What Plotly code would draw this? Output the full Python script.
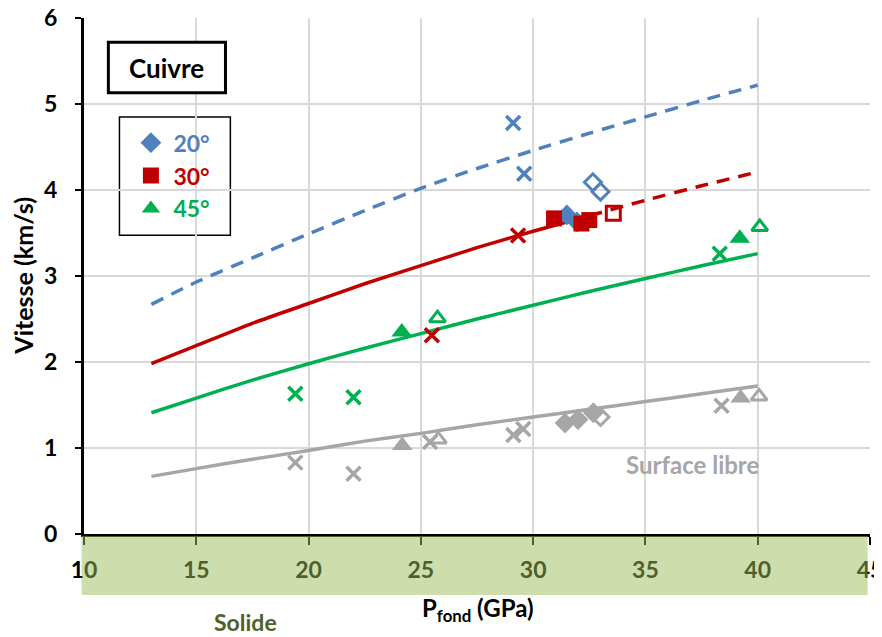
import plotly.graph_objects as go

BLUE = "#4F81BD"
RED = "#C00000"
GREEN = "#00B050"
GRAY = "#A6A6A6"

# model curves
p_model = [13, 15, 17.5, 20, 22.5, 25, 27.5, 30, 32.5, 35, 37.5, 40]
v20_model = [2.67, 2.93, 3.21, 3.49, 3.76, 4.02, 4.25, 4.46, 4.66, 4.85, 5.04, 5.22]
v45_model = [1.41, 1.58, 1.79, 1.98, 2.16, 2.33, 2.50, 2.66, 2.82, 2.97, 3.12, 3.26]
vfs_model = [0.67, 0.76, 0.87, 0.97, 1.08, 1.17, 1.27, 1.36, 1.45, 1.54, 1.63, 1.72]
p30_solid = [13, 15, 17.5, 20, 22.5, 25, 27.5, 30, 32.5]
v30_solid = [1.98, 2.19, 2.45, 2.68, 2.91, 3.12, 3.33, 3.52, 3.70]
p30_dash = [32.5, 35, 37.5, 40]
v30_dash = [3.70, 3.88, 4.05, 4.21]

# 20 deg measurements
p20_x = [29.11, 29.6]
v20_x = [4.78, 4.19]
p20_full = [31.5, 31.95]
v20_full = [3.71, 3.63]
p20_open = [32.66, 33.0]
v20_open = [4.09, 3.98]

# 30 deg measurements
p30_x = [29.33, 25.49]
v30_x = [3.47, 2.31]
p30_full = [30.93, 32.15, 32.5]
v30_full = [3.67, 3.61, 3.65]
p30_open = [33.57]
v30_open = [3.73]

# 45 deg measurements
p45_x = [19.41, 22.0, 38.31]
v45_x = [1.63, 1.59, 3.26]
p45_full = [24.15, 39.2]
v45_full = [2.35, 3.44]
p45_open = [25.74, 40.09]
v45_open = [2.51, 3.57]

# free surface measurements
pfs_x = [19.41, 22.0, 25.41, 29.12, 29.56, 38.39]
vfs_x = [0.83, 0.70, 1.07, 1.15, 1.22, 1.49]
pfs_diam = [31.42, 32.0, 32.68]
vfs_diam = [1.29, 1.33, 1.41]
pfs_diam_open = [33.0]
vfs_diam_open = [1.36]
pfs_tri = [24.17, 39.24]
vfs_tri = [1.03, 1.58]
pfs_tri_open = [25.78, 40.06]
vfs_tri_open = [1.10, 1.60]

x_ticks = [10, 15, 20, 25, 30, 35, 40, 45]
y_ticks = [0, 1, 2, 3, 4, 5, 6]

FONT = "Lato"

fig = go.Figure()


def line(x, y, color, dash="solid"):
    fig.add_trace(go.Scatter(x=x, y=y, mode="lines", showlegend=False,
                             line=dict(color=color, width=3.5, dash=dash,
                                       shape="spline", smoothing=0.6)))


def pts(x, y, color, symbol, size, lw=3):
    fig.add_trace(go.Scatter(
        x=x, y=y, mode="markers", showlegend=False,
        marker=dict(symbol=symbol, size=size, color=color,
                    line=dict(color=color, width=lw))))


line(p_model, vfs_model, GRAY)
line(p_model, v45_model, GREEN)
line(p30_solid, v30_solid, RED)
line(p30_dash, v30_dash, RED, "13px,9px")
line(p_model, v20_model, BLUE, "13px,9px")

# free surface
pts(pfs_x, vfs_x, GRAY, "x-thin", 14, 3.5)
pts(pfs_diam, vfs_diam, GRAY, "diamond", 16, 0)
pts(pfs_diam_open, vfs_diam_open, GRAY, "diamond-open", 13)
pts(pfs_tri, vfs_tri, GRAY, "triangle-up", 18, 0)
pts(pfs_tri_open, vfs_tri_open, GRAY, "triangle-up-open", 14)

# 45
pts(p45_x, v45_x, GREEN, "x-thin", 14, 3.5)
pts(p45_full, v45_full, GREEN, "triangle-up", 18, 0)
pts(p45_open, v45_open, GREEN, "triangle-up-open", 14)

# 20
pts(p20_x, v20_x, BLUE, "x-thin", 14, 3.5)
pts(p20_full, v20_full, BLUE, "diamond", 16, 0)
pts(p20_open, v20_open, BLUE, "diamond-open", 13)

# 30
pts(p30_x, v30_x, RED, "x-thin", 14, 3.5)
pts(p30_full, v30_full, RED, "square", 16, 0)
pts(p30_open, v30_open, RED, "square-open", 14)

# legend entries
for name, color, symbol in [("20°", BLUE, "diamond"), ("30°", RED, "square"),
                            ("45°", GREEN, "triangle-up")]:
    fig.add_trace(go.Scatter(
        x=[None], y=[None], mode="markers",
        name="<span style='color:%s'>%s</span>" % (color, name),
        marker=dict(symbol=symbol, size=16, color=color)))

# page body adds 8px around the figure
fig.update_layout(
    width=874, height=629,
    margin=dict(l=75.5, r=12, t=10, b=103, autoexpand=False),
    paper_bgcolor="white", plot_bgcolor="white",
    font=dict(family=FONT, size=20, color="black"),
    showlegend=True,
    legend=dict(x=0.0565, y=0.80, xanchor="left", yanchor="top",
                borderwidth=0, bgcolor="rgba(0,0,0,0)",
                font=dict(size=23, family=FONT, weight="bold"),
                itemwidth=35, tracegroupgap=0),
    xaxis=dict(range=[10, 45], tickvals=x_ticks, showgrid=True,
               gridcolor="#D9D9D9", gridwidth=1.5, zeroline=False,
               showline=True, linecolor="black", linewidth=3,
               ticks="outside", ticklen=8, tickwidth=2, tickcolor="black",
               ticklabelstandoff=5, automargin=False,
               ticklabeloverflow="allow",
               tickfont=dict(size=23, family=FONT, weight="bold")),
    yaxis=dict(range=[0, 6], tickvals=y_ticks, showgrid=True,
               gridcolor="#D9D9D9", gridwidth=1.5, zeroline=False,
               showline=True, linecolor="black", linewidth=3,
               ticks="outside", ticklen=6, tickwidth=2, tickcolor="black",
               ticklabelstandoff=13, automargin=False,
               ticklabeloverflow="allow",
               tickfont=dict(size=23, family=FONT, weight="bold")),
    shapes=[
        # green "solide" band, drawn over the tick labels
        dict(type="rect", xref="paper", yref="paper", x0=-0.003, x1=0.997,
             y0=-0.004, y1=-0.118, fillcolor="#9BBB59", opacity=0.5,
             line=dict(width=0), layer="above"),
        # Cuivre box
        dict(type="rect", xref="paper", yref="paper", x0=0.031, x1=0.18,
             y0=0.855, y1=0.953, fillcolor="white",
             line=dict(color="black", width=3), layer="above"),
        # legend box
        dict(type="rect", xref="paper", yref="paper", x0=0.0451, x1=0.1862,
             y0=0.579, y1=0.808, fillcolor="white",
             line=dict(color="black", width=1.5), layer="below"),
    ],
    annotations=[
        dict(text="<b>Cuivre</b>", xref="paper", yref="paper", x=0.1055,
             y=0.904, xanchor="center", yanchor="middle", showarrow=False,
             font=dict(size=26, color="black")),
        dict(text="<b>Surface libre</b>", x=37.1, y=0.81, xanchor="center",
             yanchor="middle", showarrow=False,
             font=dict(size=24, color=GRAY)),
        dict(text="<b>Solide</b>", xref="paper", yref="paper", x=0.205,
             y=-0.171, xanchor="center", yanchor="middle", showarrow=False,
             font=dict(size=23, color="#4F6228")),
        dict(text="<b>P<sub>fond</sub> (GPa)</b>", xref="paper",
             yref="paper", x=0.5, y=-0.146, xanchor="center",
             yanchor="middle", showarrow=False,
             font=dict(size=24, color="black")),
        dict(text="<b>Vitesse (km/s)</b>", xref="paper", yref="paper",
             x=-0.078, y=0.5, xanchor="center", yanchor="middle",
             textangle=-90, showarrow=False,
             font=dict(size=25, color="black")),
    ],
)

fig.write_html("out.html")
